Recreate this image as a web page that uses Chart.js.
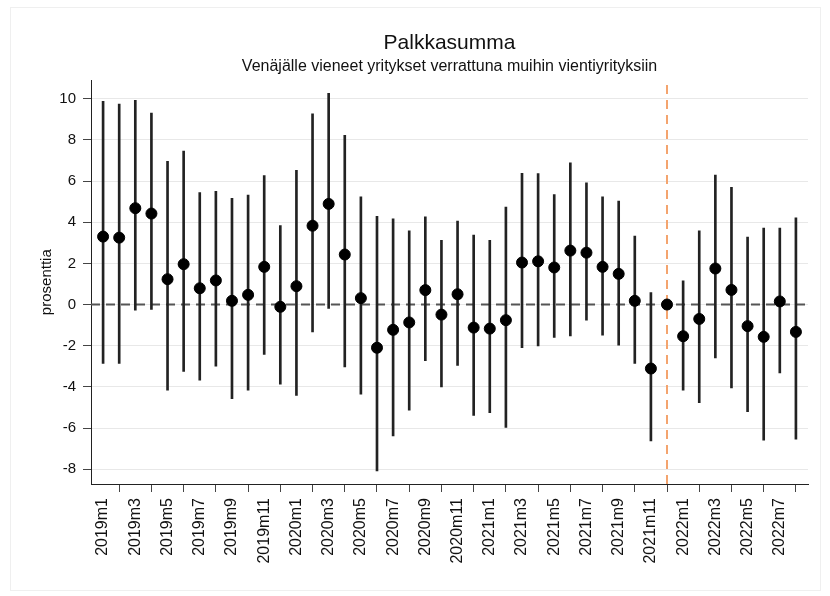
<!DOCTYPE html>
<html>
<head>
<meta charset="utf-8">
<script src="https://cdn.jsdelivr.net/npm/chart.js@4"></script>
<style>
  html, body { margin: 0; padding: 0; background: #fff; }
  canvas { display: block; }
</style>
</head>
<body>
<canvas id="myChart" width="830" height="596"></canvas>
<script>
// one label for every second month on the x axis
let tickLabels = [
  '2019m1', '2019m3', '2019m5', '2019m7', '2019m9', '2019m11',
  '2020m1', '2020m3', '2020m5', '2020m7', '2020m9', '2020m11',
  '2021m1', '2021m3', '2021m5', '2021m7', '2021m9', '2021m11',
  '2022m1', '2022m3', '2022m5', '2022m7'
];

// point estimates, 2019m1 ... 2022m8
let estimate = [
  3.30, 3.25, 4.68, 4.42, 1.23, 1.96, 0.79, 1.17, 0.18, 0.47, 1.83, -0.11,
  0.89, 3.83, 4.89, 2.43, 0.31, -2.10, -1.23, -0.87, 0.70, -0.49, 0.50, -1.12,
  -1.17, -0.76, 2.04, 2.10, 1.80, 2.62, 2.52, 1.83, 1.49, 0.18, -3.11, 0,
  -1.54, -0.70, 1.75, 0.71, -1.05, -1.57, 0.15, -1.33
];

let upper = [
  9.87, 9.74, 9.92, 9.30, 6.96, 7.46, 5.44, 5.50, 5.16, 5.32, 6.26, 3.83,
  6.52, 9.27, 10.26, 8.22, 5.23, 4.29, 4.17, 3.58, 4.26, 3.12, 4.06, 3.37,
  3.12, 4.74, 6.38, 6.36, 5.34, 6.89, 5.91, 5.23, 5.03, 3.33, 0.58, null,
  1.15, 3.58, 6.29, 5.70, 3.28, 3.72, 3.72, 4.21
];

let lower = [
  -2.86, -2.86, -0.28, -0.24, -4.16, -3.25, -3.67, -2.99, -4.58, -4.16, -2.43, -3.87,
  -4.42, -1.33, -0.19, -3.03, -4.35, -8.09, -6.38, -5.13, -2.73, -4.00, -2.96, -5.39,
  -5.26, -5.97, -2.10, -2.01, -1.60, -1.52, -0.76, -1.49, -1.97, -2.86, -6.63, null,
  -4.16, -4.77, -2.59, -4.05, -5.21, -6.59, -3.32, -6.54
];

let yTicks = [-8, -6, -4, -2, 0, 2, 4, 6, 8, 10];
let breakIndex = 35; // 2021m12
let xMin = -0.75, xMax = 43.75;
let yMin = -8.72, yMax = 10.89;

const FONT = "'Liberation Sans', Arial, sans-serif";

let pointData = estimate.map((v, i) => ({x: i, y: v}));
let ciData = [];
for (let i = 0; i < estimate.length; i++) {
  if (upper[i] !== null) ciData.push({x: i, y: [lower[i], upper[i]]});
}

const frame = {
  id: 'frame',
  beforeDraw(chart) {
    let c = chart.ctx;
    c.save();
    c.fillStyle = '#fff';
    c.fillRect(0, 0, chart.width, chart.height);
    c.strokeStyle = '#efefef';
    c.lineWidth = 1;
    c.strokeRect(10.5, 7.5, 810, 583);
    c.restore();
  }
};

let ctx = document.getElementById('myChart').getContext('2d');
let myChart = new Chart(ctx, {
  type: 'bar',
  data: {
    datasets: [
      {
        type: 'scatter',
        data: pointData,
        backgroundColor: '#000',
        borderColor: '#000',
        pointRadius: 5.5,
        order: 0
      },
      {
        type: 'bar',
        data: ciData,
        backgroundColor: '#222',
        barThickness: 2,
        order: 1
      },
      {
        type: 'line',
        data: [{x: xMin, y: 0}, {x: xMax, y: 0}],
        borderColor: '#555',
        borderWidth: 2,
        borderDash: [9, 6],
        pointRadius: 0,
        order: 2
      },
      {
        type: 'line',
        data: [{x: breakIndex, y: yMin}, {x: breakIndex, y: yMax}],
        borderColor: '#f4a46e',
        borderWidth: 2,
        borderDash: [9, 6],
        pointRadius: 0,
        order: 3
      }
    ]
  },
  options: {
    responsive: false,
    animation: false,
    devicePixelRatio: 1,
    layout: {padding: {left: 30, right: 22, top: 31, bottom: 12}},
    plugins: {
      legend: {display: false},
      tooltip: {enabled: false},
      title: {
        display: true,
        fullSize: false,
        text: 'Palkkasumma',
        color: '#111',
        font: {family: FONT, size: 21, weight: 'normal'},
        padding: {top: 0, bottom: 0}
      },
      subtitle: {
        display: true,
        fullSize: false,
        text: 'Venäjälle vieneet yritykset verrattuna muihin vientiyrityksiin',
        color: '#111',
        font: {family: FONT, size: 16, weight: 'normal'},
        padding: {top: 1, bottom: 4}
      }
    },
    scales: {
      x: {
        type: 'linear',
        min: xMin,
        max: xMax,
        offset: false,
        afterBuildTicks: (scale) => {
          scale.ticks = tickLabels.map((t, i) => ({value: i * 2}));
        },
        afterFit: (scale) => { scale.height = 100; },
        ticks: {
          autoSkip: false,
          minRotation: 90,
          maxRotation: 90,
          padding: 6,
          color: '#111',
          font: {family: FONT, size: 16},
          callback: (value) => tickLabels[Math.round(value / 2)]
        },
        grid: {
          drawOnChartArea: false,
          drawTicks: true,
          tickLength: 8,
          tickColor: '#444'
        },
        border: {display: true, color: '#222', width: 1}
      },
      y: {
        type: 'linear',
        min: yMin,
        max: yMax,
        afterBuildTicks: (scale) => {
          scale.ticks = yTicks.map(v => ({value: v}));
        },
        afterFit: (scale) => { scale.width = 61; },
        ticks: {
          padding: 7,
          color: '#111',
          font: {family: FONT, size: 15}
        },
        grid: {
          color: '#e8e8e8',
          lineWidth: 1,
          drawTicks: true,
          tickLength: 8,
          tickColor: '#444'
        },
        border: {display: true, color: '#222', width: 1},
        title: {
          display: true,
          text: 'prosenttia',
          color: '#111',
          font: {family: FONT, size: 15},
          padding: {top: 8, bottom: 0}
        }
      }
    }
  },
  plugins: [frame]
});
</script>
</body>
</html>
